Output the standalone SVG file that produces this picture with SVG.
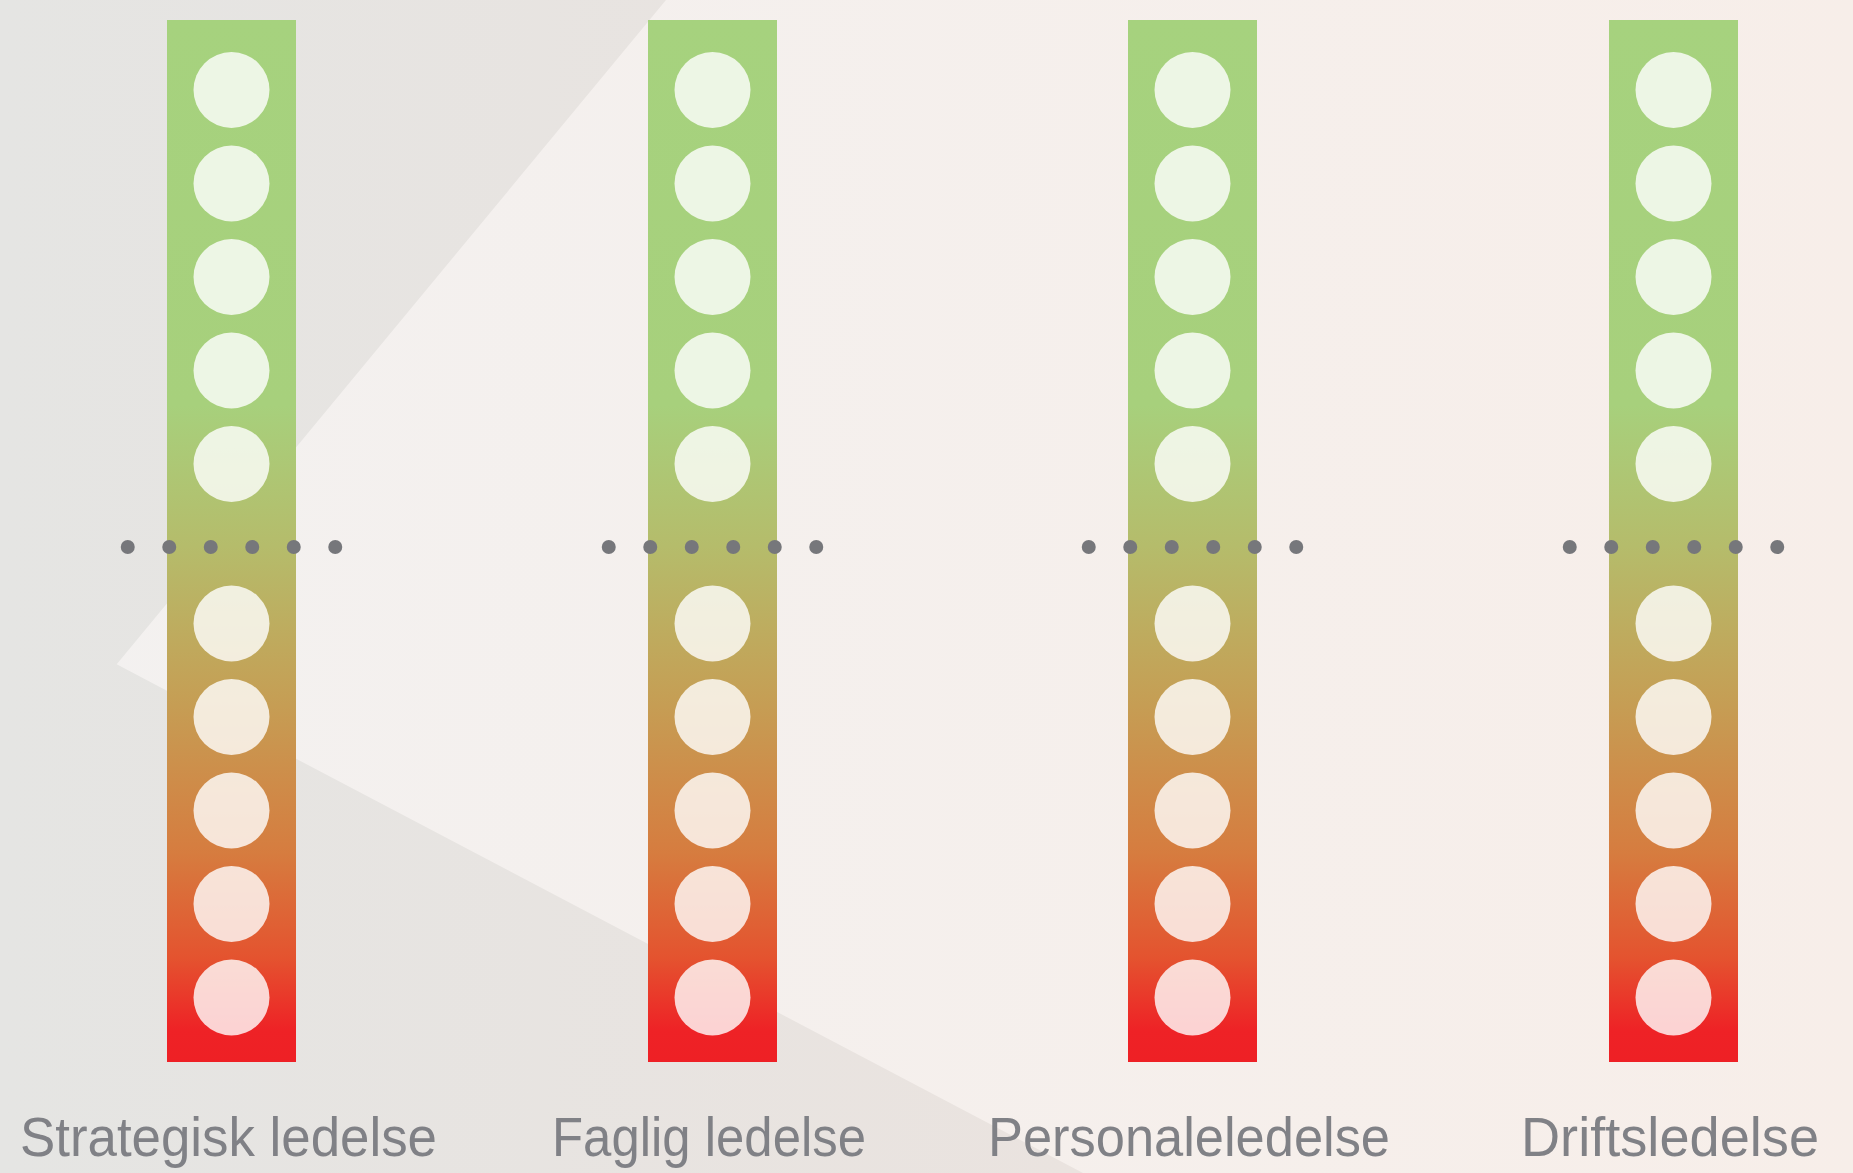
<svg xmlns="http://www.w3.org/2000/svg" width="1853" height="1173" viewBox="0 0 1853 1173">
<style>
.circ{fill:#ffffff;fill-opacity:0.8}
.dot{fill:#76777b}
.lbl{font-family:"Liberation Sans",Arial,sans-serif;font-size:55px;fill:#808186}
</style>
<defs>
<linearGradient id="bgLight" gradientUnits="userSpaceOnUse" x1="0" y1="0" x2="1853" y2="0">
<stop offset="0" stop-color="#f3f1f0"/>
<stop offset="1" stop-color="#f7eee9"/>
</linearGradient>
<linearGradient id="bgDark" gradientUnits="userSpaceOnUse" x1="0" y1="0" x2="1083" y2="0">
<stop offset="0" stop-color="#e5e5e3"/>
<stop offset="1" stop-color="#eae3df"/>
</linearGradient>
<linearGradient id="barGrad" gradientUnits="userSpaceOnUse" x1="0" y1="20" x2="0" y2="1062">
<stop offset="0" stop-color="#a6d27e"/>
<stop offset="0.37" stop-color="#a7d07c"/>
<stop offset="0.505" stop-color="#b5bc6b"/>
<stop offset="0.65" stop-color="#c59f55"/>
<stop offset="0.8" stop-color="#d67c3f"/>
<stop offset="0.9" stop-color="#e4532f"/>
<stop offset="0.97" stop-color="#ee2226"/>
<stop offset="1" stop-color="#ee2025"/>
</linearGradient>
<g id="column">
<rect x="-64.5" y="20" width="129" height="1042" fill="url(#barGrad)"/>
<circle class="circ" cx="0" cy="90" r="38"/>
<circle class="circ" cx="0" cy="183.5" r="38"/>
<circle class="circ" cx="0" cy="277" r="38"/>
<circle class="circ" cx="0" cy="370.5" r="38"/>
<circle class="circ" cx="0" cy="464" r="38"/>
<circle class="circ" cx="0" cy="623.5" r="38"/>
<circle class="circ" cx="0" cy="717" r="38"/>
<circle class="circ" cx="0" cy="810.5" r="38"/>
<circle class="circ" cx="0" cy="904" r="38"/>
<circle class="circ" cx="0" cy="997.5" r="38"/>
<circle class="dot" cx="-103.75" cy="547" r="7"/>
<circle class="dot" cx="-62.25" cy="547" r="7"/>
<circle class="dot" cx="-20.75" cy="547" r="7"/>
<circle class="dot" cx="20.75" cy="547" r="7"/>
<circle class="dot" cx="62.25" cy="547" r="7"/>
<circle class="dot" cx="103.75" cy="547" r="7"/>
</g>
</defs>
<g id="background">
<rect x="0" y="0" width="1853" height="1173" fill="url(#bgLight)"/>
<polygon points="0,0 666,0 116.7,664.3 1083,1173 0,1173" fill="url(#bgDark)"/>
</g>
<g id="connectors"></g>
<g id="strategisk">
<use href="#column" x="231.5" y="0"/>
<text class="lbl" x="20" y="1156" textLength="417" lengthAdjust="spacingAndGlyphs">Strategisk ledelse</text>
</g>
<g id="faglig">
<use href="#column" x="712.5" y="0"/>
<text class="lbl" x="552" y="1156" textLength="314" lengthAdjust="spacingAndGlyphs">Faglig ledelse</text>
</g>
<g id="personale">
<use href="#column" x="1192.5" y="0"/>
<text class="lbl" x="988" y="1156" textLength="402" lengthAdjust="spacingAndGlyphs">Personaleledelse</text>
</g>
<g id="drift">
<use href="#column" x="1673.5" y="0"/>
<text class="lbl" x="1521" y="1156" textLength="298" lengthAdjust="spacingAndGlyphs">Driftsledelse</text>
</g>
</svg>
